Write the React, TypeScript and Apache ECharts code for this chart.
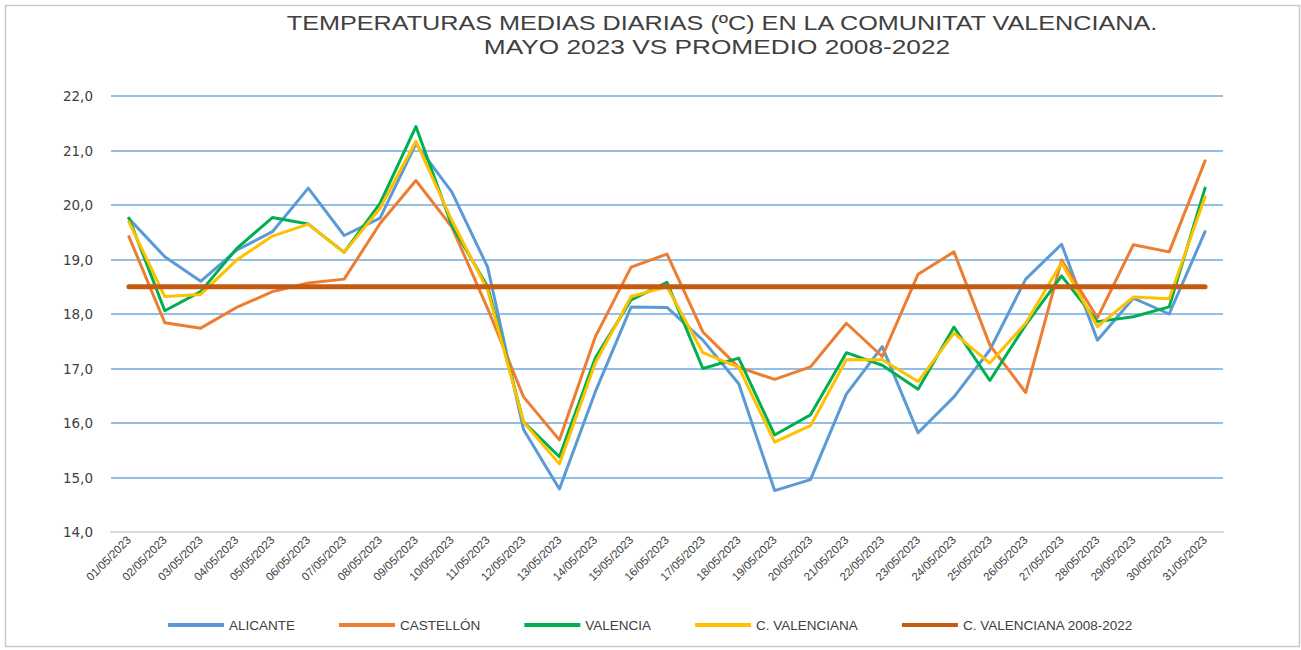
import React, { useEffect, useRef } from "react";
import * as echarts from "echarts";

const titleLines: string[] = [
  "TEMPERATURAS MEDIAS DIARIAS (ºC) EN LA COMUNITAT VALENCIANA.",
  "MAYO 2023 VS PROMEDIO 2008-2022",
];

const categories: string[] = Array.from({ length: 31 }, (_, i) =>
  `${String(i + 1).padStart(2, "0")}/05/2023`
);

const alicante: number[] = [
  19.75, 19.05, 18.6, 19.17, 19.51, 20.31, 19.44, 19.76, 21.12, 20.24,
  18.86, 15.88, 14.79, 16.57, 18.13, 18.12, 17.52, 16.72, 14.76, 14.96,
  16.53, 17.4, 15.82, 16.48, 17.34, 18.64, 19.28, 17.52, 18.29, 18.0, 19.51,
];
const castellon: number[] = [
  19.42, 17.84, 17.74, 18.12, 18.41, 18.57, 18.64, 19.66, 20.45, 19.6,
  18.1, 16.48, 15.69, 17.58, 18.86, 19.1, 17.67, 17.02, 16.8, 17.03,
  17.83, 17.22, 18.73, 19.14, 17.43, 16.56, 18.99, 17.93, 19.27, 19.14, 20.81,
];
const valencia: number[] = [
  19.76, 18.06, 18.41, 19.2, 19.77, 19.65, 19.13, 20.03, 21.44, 19.63,
  18.5, 16.02, 15.38, 17.19, 18.26, 18.58, 17.0, 17.19, 15.78, 16.15,
  17.29, 17.06, 16.62, 17.76, 16.78, 17.8, 18.7, 17.86, 17.95, 18.13, 20.31,
];
const cValenciana: number[] = [
  19.69, 18.32, 18.36, 18.99, 19.43, 19.65, 19.13, 19.94, 21.17, 19.72,
  18.44, 16.02, 15.25, 17.1, 18.32, 18.5, 17.29, 17.02, 15.65, 15.95,
  17.16, 17.16, 16.76, 17.65, 17.1, 17.83, 18.94, 17.77, 18.31, 18.28, 20.15,
];
const average20082022 = 18.5;
const averageSeries: number[] = categories.map(() => average20082022);

const seriesNames: string[] = [
  "ALICANTE",
  "CASTELLÓN",
  "VALENCIA",
  "C. VALENCIANA",
  "C. VALENCIANA 2008-2022",
];
const seriesColors: string[] = ["#5B9BD5", "#ED7D31", "#00B050", "#FFC000", "#C55A11"];

const yMin = 14;
const yMax = 22;
const yInterval = 1;

export default function App() {
  const ref = useRef<HTMLDivElement>(null);

  useEffect(() => {
    document.body.style.margin = "0";
    if (!ref.current) return;
    const chart = echarts.init(ref.current, undefined, { renderer: "svg" });
    const dataSets = [alicante, castellon, valencia, cValenciana, averageSeries];
    const titleStyle = {
      fontFamily: "Liberation Sans",
      fontSize: 21,
      fill: "#404040",
      align: "center",
      verticalAlign: "middle",
    };
    chart.setOption({
      animation: false,
      backgroundColor: "#ffffff",
      graphic: [
        {
          type: "rect",
          left: 3,
          top: 3,
          shape: { width: 1294, height: 641 },
          style: { fill: "none", stroke: "#c9c9c9", lineWidth: 1.5 },
          silent: true,
        },
        {
          type: "text",
          x: 722,
          y: 23,
          scaleX: 1.2,
          style: { ...titleStyle, text: titleLines[0] },
          silent: true,
        },
        {
          type: "text",
          x: 717,
          y: 46,
          scaleX: 1.25,
          style: { ...titleStyle, text: titleLines[1] },
          silent: true,
        },
      ],
      legend: {
        data: seriesNames,
        bottom: 13,
        left: "center",
        icon: "rect",
        itemWidth: 56,
        itemHeight: 4,
        itemGap: 44,
        textStyle: {
          fontFamily: "Liberation Sans",
          fontSize: 13.5,
          color: "#404040",
        },
      },
      grid: { left: 111, right: 78, top: 96, bottom: 118, containLabel: false },
      xAxis: {
        type: "category",
        data: categories,
        boundaryGap: true,
        axisLine: { show: true, lineStyle: { color: "#d9d9d9", width: 2 } },
        axisTick: { show: false },
        axisLabel: {
          interval: 0,
          rotate: 45,
          fontFamily: "Liberation Sans",
          fontSize: 11.5,
          color: "#404040",
          margin: 6,
        },
      },
      yAxis: {
        type: "value",
        min: yMin,
        max: yMax,
        interval: yInterval,
        axisLine: { show: false },
        axisTick: { show: false },
        axisLabel: {
          formatter: (v: number) => v.toFixed(1).replace(".", ","),
          fontFamily: "DejaVu Sans",
          fontSize: 13.5,
          color: "#404040",
          margin: 18,
        },
        splitLine: { lineStyle: { color: "#6FA8DC", width: 1.5 } },
      },
      series: seriesNames.map((name, i) => ({
        name,
        type: "line",
        data: dataSets[i],
        symbol: "none",
        lineStyle: {
          color: seriesColors[i],
          width: i === 4 ? 5 : 3,
          cap: "round",
          join: "round",
        },
        itemStyle: { color: seriesColors[i] },
        z: i === 4 ? 10 : 2 + i,
      })),
    });
    return () => chart.dispose();
  }, []);

  return <div ref={ref} style={{ width: 1301, height: 650 }} />;
}
